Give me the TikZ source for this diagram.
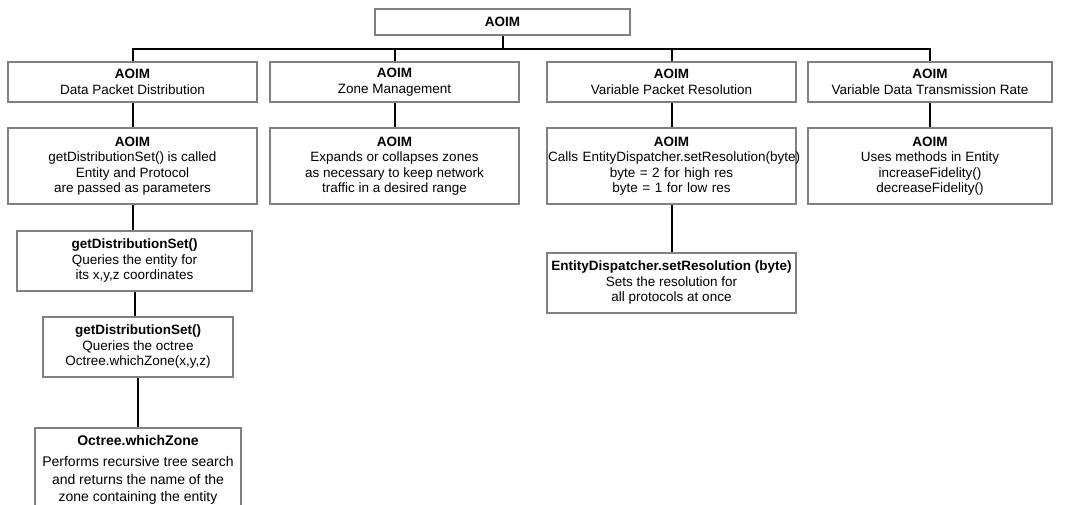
\documentclass[tikz,border=0pt]{standalone}
\usepackage{fontspec}
\setmainfont{Liberation Sans}
\definecolor{boxBd}{HTML}{808080}
\tikzset{
  block/.style={
    rectangle, draw=boxBd, line width=2pt,
    align=center, inner sep=0pt,
    font=\fontsize{13.5}{15.5}\selectfont
  },
  task/.style={block, minimum width=249pt, minimum height=40pt},
  detail/.style={block, minimum width=249pt, minimum height=76pt},
  link/.style={draw=black, line width=2pt}
}

\begin{document}
\begin{tikzpicture}[x=1pt,y=-1pt]
  \clip (0,0) rectangle (1065,504);

  % root
  \node[block, minimum width=255pt, minimum height=26pt] (aoim) at (502.5,22) {\textbf{AOIM}};
  \coordinate (bus) at (0,49);

  % the four tasks
  \node[task] (dpd) at (132.5,82) {\textbf{AOIM}\\Data Packet Distribution};
  \node[task] (zm)  at (394.5,82) {\textbf{AOIM}\\Zone Management};
  \node[task] (vpr) at (671.5,82) {\textbf{AOIM}\\Variable Packet Resolution};
  \node[task, minimum width=244pt] (vdr) at (930,82) {\textbf{AOIM}\\Variable Data Transmission Rate};

  % what each task does
  \node[detail] (dpdx) at (132.5,166) {\textbf{AOIM}\\getDistributionSet() is called\\Entity and Protocol\\are passed as parameters};
  \node[detail] (zmx)  at (394.5,166) {\textbf{AOIM}\\Expands or collapses zones\\as necessary to keep network\\traffic in a desired range};
  \node[detail, text width=247pt] (vprx) at (671.5,166) {\textbf{AOIM}\\\mbox{Calls EntityDispatcher.setResolution(byte)}\\byte = 2 for high res\\byte = 1 for low res};
  \node[detail, minimum width=244pt] (vdrx) at (930,166) {\textbf{AOIM}\\Uses methods in Entity\\increaseFidelity()\\decreaseFidelity()};

  % distribution chain
  \node[block, minimum width=235pt, minimum height=60pt] (gds) at (134.5,261) {\textbf{getDistributionSet()}\\Queries the entity for\\its x,y,z coordinates};
  \node[block, minimum width=190pt, minimum height=60pt] (gdso) at (138,347) {\textbf{getDistributionSet()}\\Queries the octree\\Octree.whichZone(x,y,z)};
  \node[block, minimum width=206pt, minimum height=84pt, font=\fontsize{14}{17.5}\selectfont] (oct) at (138,470)
    {\textbf{Octree.whichZone}\\[4pt]Performs recursive tree search\\and returns the name of the\\zone containing the entity};

  % resolution call
  \node[block, minimum width=249pt, minimum height=60pt] (edr) at (671.5,283) {\textbf{EntityDispatcher.setResolution (byte)}\\Sets the resolution for\\all protocols at once};

  % links
  \draw[link] (aoim.south) -- (aoim.south |- bus);
  \draw[link] (dpd.north) -- (dpd.north |- bus) -| (vdr.north);
  \foreach \n in {zm,vpr}
    \draw[link] (\n.north) -- (\n.north |- bus);
  \foreach \a/\b in {dpd/dpdx, zm/zmx, vpr/vprx, vdr/vdrx, dpdx/gds, gds/gdso, gdso/oct, vprx/edr}
    \draw[link] (\a.south) -- (\a.south |- \b.north);
\end{tikzpicture}
\end{document}
